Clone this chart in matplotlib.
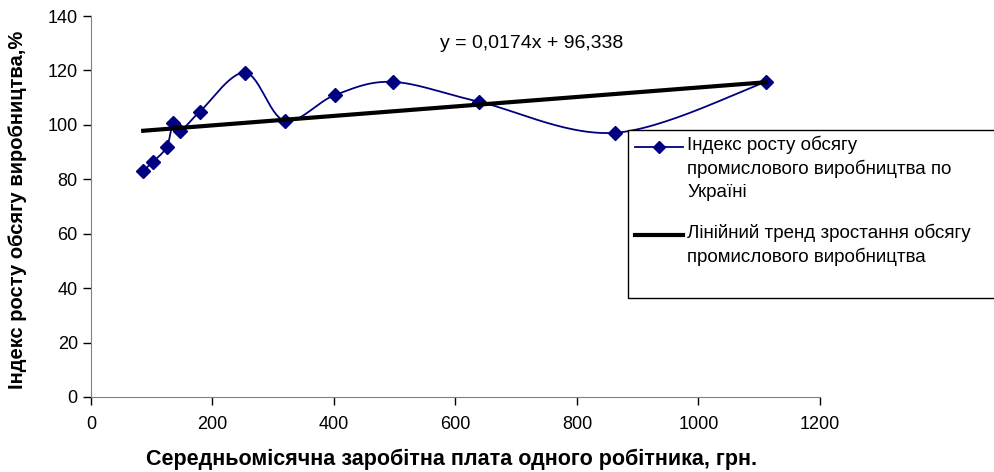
import numpy as np
import matplotlib.pyplot as plt
from matplotlib.lines import Line2D
from matplotlib.patches import Rectangle

plt.rcParams['font.family'] = ['Liberation Sans', 'DejaVu Sans']

# Data
wage = [86, 102, 125, 135, 147, 179, 254, 319, 402, 497, 639, 863, 1111]
index = [83.1, 86.4, 92.0, 100.7, 97.8, 104.8, 119.2, 101.5, 111.0, 115.8, 108.5, 97.1, 115.8]
slope, intercept = 0.0174, 96.338

series_label = 'Індекс росту обсягу\nпромислового виробництва по\nУкраїні'
trend_label = 'Лінійний тренд зростання обсягу\nпромислового виробництва'

W, H = 994, 472


def fx(p):
    return p / W


def fy(p):
    return 1 - p / H


def smooth(x, y, n=30):
    # Excel-style smoothed line (Catmull-Rom through the points)
    x = np.asarray(x, float)
    y = np.asarray(y, float)
    px = np.concatenate([[x[0]], x, [x[-1]]])
    py = np.concatenate([[y[0]], y, [y[-1]]])
    xs, ys = [], []
    t = np.linspace(0, 1, n)
    for i in range(1, len(px) - 2):
        p0, p1, p2, p3 = (np.array([px[j], py[j]]) for j in (i - 1, i, i + 1, i + 2))
        c1 = p1 + (p2 - p0) / 6
        c2 = p2 - (p3 - p1) / 6
        b = ((1 - t) ** 3)[:, None] * p1 + (3 * (1 - t) ** 2 * t)[:, None] * c1 \
            + (3 * (1 - t) * t ** 2)[:, None] * c2 + (t ** 3)[:, None] * p2
        xs.extend(b[:, 0])
        ys.extend(b[:, 1])
    return xs, ys


fig = plt.figure(figsize=(W / 100, H / 100), dpi=100)
ax = fig.add_axes([0.0915, 0.159, 0.7334, 0.807])

sx, sy = smooth(wage, index)
ax.plot(sx, sy, color='#000080', lw=1.3)
ax.plot(wage, index, linestyle='none', marker='D', color='#000080', markersize=7)

tx = np.array([min(wage), max(wage)])
ax.plot(tx, slope * tx + intercept, color='black', lw=3)

fig.text(fx(532), fy(43), 'y = 0,0174x + 96,338', ha='center', va='center', fontsize=14)

ax.set_xlim(0, 1200)
ax.set_ylim(0, 140)
ax.set_xticks(range(0, 1201, 200))
ax.set_yticks(range(0, 141, 20))
ax.tick_params(labelsize=13, length=6, width=1, direction='out')
ax.tick_params(axis='x', pad=8)
for s in ['top', 'right']:
    ax.spines[s].set_visible(False)
for s in ['left', 'bottom']:
    ax.spines[s].set_color('#808080')

fig.text(fx(452), fy(459), 'Середньомісячна заробітна плата одного робітника, грн.',
         ha='center', va='center', fontsize=15.5, fontweight='bold')
fig.text(fx(18), fy(210), 'Індекс росту обсягу виробництва,%',
         ha='center', va='center', rotation=90, fontsize=14.5, fontweight='bold')

# legend box drawn like the Excel one (runs off the right edge)
fig.add_artist(Rectangle((fx(628), fy(298)), fx(1000) - fx(628), fy(130) - fy(298),
                         transform=fig.transFigure, facecolor='white',
                         edgecolor='black', lw=1, clip_on=False))
fig.add_artist(Line2D([fx(635), fx(683)], [fy(147), fy(147)], transform=fig.transFigure,
                      color='#000080', lw=1.3))
fig.add_artist(Line2D([fx(659)], [fy(147)], transform=fig.transFigure, color='#000080',
                      marker='D', markersize=6))
fig.add_artist(Line2D([fx(635), fx(683)], [fy(235), fy(235)], transform=fig.transFigure,
                      color='black', lw=3))
fig.text(fx(687), fy(136), series_label, ha='left', va='top', fontsize=13.5, linespacing=1.4)
fig.text(fx(687), fy(224), trend_label, ha='left', va='top', fontsize=13.5, linespacing=1.4)

fig.savefig('out.png', dpi=100)
